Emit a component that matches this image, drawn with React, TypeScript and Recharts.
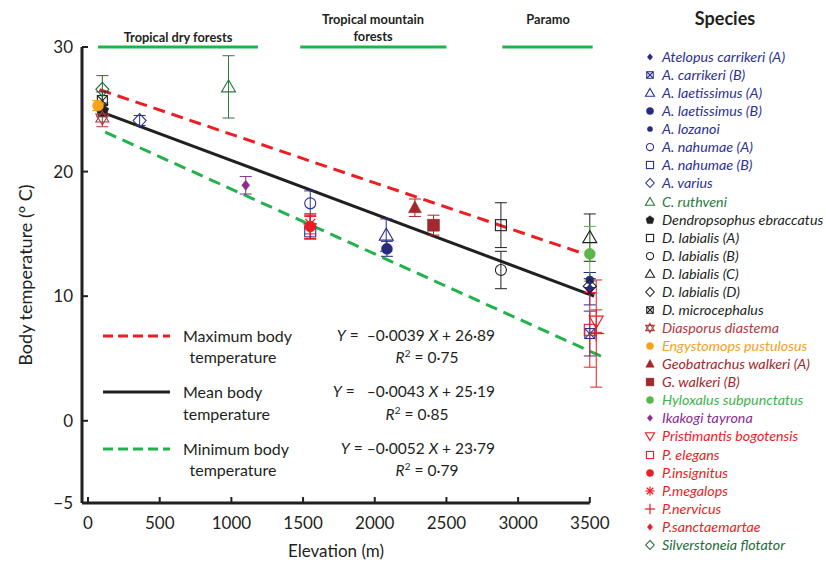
import React from 'react';
import { ComposedChart, Scatter, Line, XAxis, YAxis, ErrorBar, ReferenceLine } from 'recharts';

const FONT = 'Lato, "Open Sans", sans-serif';
const INK = '#231f20';

// ---- Species observations (elevation m, mean body temperature °C, error) ----
const atelopusCarrikeriA = [{ x: 3500, y: 10.6, e: 1.3 }];
const aCarrikeriB = [{ x: 3500, y: 7.0, e: 1.8 }];
const aLaetissimusA = [{ x: 2080, y: 14.9, e: 1.3 }];
const aLaetissimusB = [{ x: 2085, y: 13.8, e: 0.6 }];
const aLozanoi = [{ x: 3500, y: 11.3, e: 0.6 }];
const aNahumaeA = [{ x: 1550, y: 17.45, e: 1.0 }];
const aNahumaeB = [{ x: 1550, y: 15.2, e: 0.6 }];
const aVarius = [{ x: 360, y: 24.1, e: 0.4 }];
const cRuthveni = [{ x: 980, y: 26.8, e: 2.5 }];
const dendropsophusEbraccatus = [{ x: 100, y: 24.9, e: 0.5 }];
const dLabialisA = [{ x: 2880, y: 15.7, e: 1.8 }];
const dLabialisB = [{ x: 2880, y: 12.1, e: 1.5 }];
const dLabialisC = [{ x: 3500, y: 14.7, e: 1.9 }];
const dLabialisD = [{ x: 3500, y: 10.8, e: 0.6 }];
const dMicrocephalus = [{ x: 100, y: 25.7, e: 0.7 }];
const diasporusDiastema = [{ x: 100, y: 24.3, e: 0.7 }];
const engystomopsPustulosus = [{ x: 70, y: 25.3, e: 0.4 }];
const geobatrachusWalkeriA = [{ x: 2280, y: 17.1, e: 0.7 }];
const gWalkeriB = [{ x: 2410, y: 15.7, e: 0.8 }];
const hyloxalusSubpunctatus = [{ x: 3500, y: 13.4, e: 2.2 }];
const ikakogiTayrona = [{ x: 1100, y: 18.9, e: 0.7 }];
const pristimantisBogotensis = [{ x: 3545, y: 8.0, e: 0.9 }];
const pElegans = [{ x: 3500, y: 7.3, e: 3.0 }];
const pInsignitus = [{ x: 1550, y: 15.6, e: 1.0 }];
const pMegalops = [{ x: 1550, y: 15.8, e: 0.8 }];
const pNervicus = [{ x: 3545, y: 7.0, e: 4.3 }];
const pSanctaemartae = [{ x: 1550, y: 15.5, e: 0.9 }];
const silverstoneiaFlotator = [{ x: 100, y: 26.6, e: 1.1 }];

// ---- Regression lines (end points) ----
const maxLine = [{ x: 80, y: 26.58 }, { x: 3480, y: 13.32 }];
const meanLine = [{ x: 100, y: 24.76 }, { x: 3530, y: 10.01 }];
const minLine = [{ x: 120, y: 23.17 }, { x: 3580, y: 5.17 }];

// ---- Axes ----
const xTicks = [0, 500, 1000, 1500, 2000, 2500, 3000, 3500];
const yTickValues = [-6.6, 0, 10, 20, 30];
const yTickLabels = ['−5', '0', '10', '20', '30'];

// ---- Habitat bands ----
const bandNames = ['Tropical dry forests', 'Tropical mountain forests', 'Paramo'];
const bandFrom = [70, 1480, 2890];
const bandTo = [1185, 2500, 3520];

type Kind =
  | 'diamondFilled' | 'squareX' | 'triangle' | 'circleFilled' | 'circleSmall' | 'circle'
  | 'square' | 'diamond' | 'pentagonFilled' | 'starDavid' | 'triangleFilled' | 'squareFilled'
  | 'triangleDown' | 'asterisk' | 'plus';

const BLUE = '#2e3192';
const NAVY = '#262b7e';
const DKGREEN = '#2b7a3d';
const RED = '#ed1c24';
const BROWNRED = '#b13a3c';
const DKRED = '#a3282b';

const species: { name: string; data: any[]; kind: Kind; color: string; text: string }[] = [
  { name: 'Atelopus carrikeri (A)', data: atelopusCarrikeriA, kind: 'diamondFilled', color: NAVY, text: BLUE },
  { name: 'A. carrikeri (B)', data: aCarrikeriB, kind: 'squareX', color: BLUE, text: BLUE },
  { name: 'A. laetissimus (A)', data: aLaetissimusA, kind: 'triangle', color: BLUE, text: BLUE },
  { name: 'A. laetissimus (B)', data: aLaetissimusB, kind: 'circleFilled', color: NAVY, text: BLUE },
  { name: 'A. lozanoi', data: aLozanoi, kind: 'circleSmall', color: NAVY, text: BLUE },
  { name: 'A. nahumae (A)', data: aNahumaeA, kind: 'circle', color: BLUE, text: BLUE },
  { name: 'A. nahumae (B)', data: aNahumaeB, kind: 'square', color: BLUE, text: BLUE },
  { name: 'A. varius', data: aVarius, kind: 'diamond', color: BLUE, text: BLUE },
  { name: 'C. ruthveni', data: cRuthveni, kind: 'triangle', color: DKGREEN, text: DKGREEN },
  { name: 'Dendropsophus ebraccatus', data: dendropsophusEbraccatus, kind: 'pentagonFilled', color: INK, text: INK },
  { name: 'D. labialis (A)', data: dLabialisA, kind: 'square', color: INK, text: INK },
  { name: 'D. labialis (B)', data: dLabialisB, kind: 'circle', color: INK, text: INK },
  { name: 'D. labialis (C)', data: dLabialisC, kind: 'triangle', color: INK, text: INK },
  { name: 'D. labialis (D)', data: dLabialisD, kind: 'diamond', color: INK, text: INK },
  { name: 'D. microcephalus', data: dMicrocephalus, kind: 'squareX', color: INK, text: INK },
  { name: 'Diasporus diastema', data: diasporusDiastema, kind: 'starDavid', color: BROWNRED, text: BROWNRED },
  { name: 'Engystomops pustulosus', data: engystomopsPustulosus, kind: 'circleFilled', color: '#f7a21b', text: '#f7a21b' },
  { name: 'Geobatrachus  walkeri (A)', data: geobatrachusWalkeriA, kind: 'triangleFilled', color: DKRED, text: DKRED },
  { name: 'G. walkeri (B)', data: gWalkeriB, kind: 'squareFilled', color: DKRED, text: DKRED },
  { name: 'Hyloxalus subpunctatus', data: hyloxalusSubpunctatus, kind: 'circleFilled', color: '#5cb547', text: '#3cb54a' },
  { name: 'Ikakogi tayrona', data: ikakogiTayrona, kind: 'diamondFilled', color: '#8b2c8f', text: '#8b2c8f' },
  { name: 'Pristimantis bogotensis', data: pristimantisBogotensis, kind: 'triangleDown', color: RED, text: RED },
  { name: 'P. elegans', data: pElegans, kind: 'square', color: RED, text: RED },
  { name: 'P.insignitus', data: pInsignitus, kind: 'circleFilled', color: RED, text: RED },
  { name: 'P.megalops', data: pMegalops, kind: 'asterisk', color: RED, text: RED },
  { name: 'P.nervicus', data: pNervicus, kind: 'plus', color: RED, text: RED },
  { name: 'P.sanctaemartae', data: pSanctaemartae, kind: 'diamondFilled', color: RED, text: RED },
  { name: 'Silverstoneia flotator', data: silverstoneiaFlotator, kind: 'diamond', color: '#1e6b38', text: '#1e6b38' },
];

function Marker({ kind, color, cx, cy, s = 1 }: { kind: Kind; color: string; cx: number; cy: number; s?: number }) {
  const sw = 1.1;
  const open = { fill: 'none', stroke: color, strokeWidth: sw };
  const filled = { fill: color, stroke: color, strokeWidth: 0.5 };
  const p = (pts: number[][]) => pts.map(([a, b]) => `${cx + a * s},${cy + b * s}`).join(' ');
  switch (kind) {
    case 'diamondFilled':
      return <polygon points={p([[0, -5], [4, 0], [0, 5], [-4, 0]])} {...filled} />;
    case 'squareX':
      return (
        <g {...open}>
          <rect x={cx - 5 * s} y={cy - 5 * s} width={10 * s} height={10 * s} />
          <line x1={cx - 5 * s} y1={cy - 5 * s} x2={cx + 5 * s} y2={cy + 5 * s} />
          <line x1={cx + 5 * s} y1={cy - 5 * s} x2={cx - 5 * s} y2={cy + 5 * s} />
        </g>
      );
    case 'triangle':
      return <polygon points={p([[0, -7], [7, 5], [-7, 5]])} {...open} />;
    case 'triangleDown':
      return <polygon points={p([[0, 7], [7, -5], [-7, -5]])} {...open} />;
    case 'triangleFilled':
      return <polygon points={p([[0, -7], [6.5, 5], [-6.5, 5]])} {...filled} />;
    case 'circleFilled':
      return <circle cx={cx} cy={cy} r={5.5 * s} {...filled} />;
    case 'circleSmall':
      return <circle cx={cx} cy={cy} r={4 * s} {...filled} />;
    case 'circle':
      return <circle cx={cx} cy={cy} r={5.5 * s} {...open} />;
    case 'square':
      return <rect x={cx - 5.5 * s} y={cy - 5.5 * s} width={11 * s} height={11 * s} {...open} />;
    case 'squareFilled':
      return <rect x={cx - 6 * s} y={cy - 6 * s} width={12 * s} height={12 * s} {...filled} />;
    case 'diamond':
      return <polygon points={p([[0, -7], [6.5, 0], [0, 7], [-6.5, 0]])} {...open} />;
    case 'pentagonFilled':
      return <polygon points={p([[0, -6.5], [6.2, -2], [4, 5.5], [-4, 5.5], [-6.2, -2]])} {...filled} />;
    case 'starDavid':
      return (
        <g {...open}>
          <polygon points={p([[0, -7], [6.5, 4], [-6.5, 4]])} />
          <polygon points={p([[0, 7], [6.5, -4], [-6.5, -4]])} />
        </g>
      );
    case 'asterisk':
      return (
        <g stroke={color} strokeWidth={1.2}>
          <line x1={cx - 7 * s} y1={cy} x2={cx + 7 * s} y2={cy} />
          <line x1={cx} y1={cy - 7 * s} x2={cx} y2={cy + 7 * s} />
          <line x1={cx - 5 * s} y1={cy - 5 * s} x2={cx + 5 * s} y2={cy + 5 * s} />
          <line x1={cx + 5 * s} y1={cy - 5 * s} x2={cx - 5 * s} y2={cy + 5 * s} />
        </g>
      );
    case 'plus':
      return (
        <g stroke={color} strokeWidth={1.2}>
          <line x1={cx - 8 * s} y1={cy} x2={cx + 8 * s} y2={cy} />
          <line x1={cx} y1={cy - 8 * s} x2={cx} y2={cy + 8 * s} />
        </g>
      );
    default:
      return null;
  }
}

function T({ x, y, children, size = 16, anchor = 'start', bold = false, italic = false, color = INK, rotate = 0 }: any) {
  const tx = anchor === 'middle' ? '-50%' : anchor === 'end' ? '-100%' : '0';
  return (
    <div
      style={{
        position: 'absolute',
        left: x,
        top: y,
        transform: `translate(${tx}, -50%)${rotate ? ` rotate(${rotate}deg)` : ''}`,
        transformOrigin: rotate ? '50% 50%' : undefined,
        fontSize: size,
        fontWeight: bold ? 700 : 400,
        fontStyle: italic ? 'italic' : 'normal',
        color,
        whiteSpace: 'nowrap',
        lineHeight: 1,
        fontFamily: FONT,
      }}
    >
      {children}
    </div>
  );
}

const I = ({ children }: any) => <span style={{ fontStyle: 'italic' }}>{children}</span>;

export default function App() {
  const legendTop = 57;
  const legendStep = 18.07;
  return (
    <div style={{ position: 'absolute', left: 0, top: 0, width: 826, height: 565, background: '#fff', fontFamily: FONT }}>
      <ComposedChart width={826} height={565} margin={{ top: 47, right: 219, bottom: 22, left: 22 }}>
        <XAxis
          type="number"
          dataKey="x"
          domain={[-42, 3620]}
          ticks={xTicks}
          interval={0}
          allowDataOverflow
          height={40}
          axisLine={false}
          tickSize={-6}
          tickMargin={20}
          tickLine={{ stroke: INK, strokeWidth: 2 }}
          tick={{ fill: INK, fontSize: 17, fontFamily: FONT }}
        />
        <YAxis
          type="number"
          dataKey="y"
          domain={[-6.6, 30]}
          ticks={yTickValues}
          interval={0}
          allowDataOverflow
          width={60}
          tickSize={-6}
          tickMargin={15}
          tickFormatter={(v: number) => yTickLabels[yTickValues.indexOf(v)] ?? String(v)}
          axisLine={{ stroke: INK, strokeWidth: 3 }}
          tickLine={{ stroke: INK, strokeWidth: 2 }}
          tick={{ fill: INK, fontSize: 17, fontFamily: FONT }}
        />
        <ReferenceLine
          segment={[{ x: -42, y: -6.6 }, { x: 3500, y: -6.6 }]}
          stroke={INK}
          strokeWidth={3}
          ifOverflow="visible"
        />
        {bandNames.map((n, i) => (
          <ReferenceLine
            key={n}
            segment={[{ x: bandFrom[i], y: 30 }, { x: bandTo[i], y: 30 }]}
            stroke="#22b24c"
            strokeWidth={3}
            ifOverflow="visible"
          />
        ))}
        <Line data={maxLine} dataKey="y" type="linear" stroke="#ee1d23" strokeWidth={3} strokeDasharray="12 7" dot={false} activeDot={false} isAnimationActive={false} />
        <Line data={meanLine} dataKey="y" type="linear" stroke={INK} strokeWidth={3} dot={false} activeDot={false} isAnimationActive={false} />
        <Line data={minLine} dataKey="y" type="linear" stroke="#22b24c" strokeWidth={3} strokeDasharray="12 7" dot={false} activeDot={false} isAnimationActive={false} />
        {species.map((sp) => (
          <Scatter
            key={sp.name}
            name={sp.name}
            data={sp.data}
            dataKey="y"
            isAnimationActive={false}
            shape={(props: any) => <Marker kind={sp.kind} color={sp.color} cx={props.cx} cy={props.cy} />}
          >
            <ErrorBar dataKey="e" direction="y" width={6} stroke={sp.color} strokeWidth={1} isAnimationActive={false} />
          </Scatter>
        ))}
      </ComposedChart>

      {/* Habitat band labels */}
      <T x={178} y={37} size={12.8} bold anchor="middle">Tropical dry forests</T>
      <T x={373} y={19} size={12.8} bold anchor="middle">Tropical mountain</T>
      <T x={373} y={36} size={12.8} bold anchor="middle">forests</T>
      <T x={548} y={19} size={12.8} bold anchor="middle">Paramo</T>

      {/* Axis titles */}
      <T x={25} y={275} size={18} anchor="middle" rotate={-90}>Body temperature (° C)</T>
      <T x={336} y={550} size={17} anchor="middle">Elevation (m)</T>

      {/* Regression legend */}
      <svg style={{ position: 'absolute', left: 0, top: 0 }} width={826} height={565} pointerEvents="none">
        <line x1={103} y1={336} x2={170} y2={336} stroke="#ee1d23" strokeWidth={3} strokeDasharray="10 5" />
        <line x1={103} y1={392} x2={170} y2={392} stroke={INK} strokeWidth={3} />
        <line x1={103} y1={449} x2={170} y2={449} stroke="#22b24c" strokeWidth={3} strokeDasharray="10 5" />
      </svg>
      <T x={183} y={336} size={16}>Maximum body</T>
      <T x={233} y={357} size={16} anchor="middle">temperature</T>
      <T x={183} y={392} size={16}>Mean body</T>
      <T x={183} y={414} size={16}>temperature</T>
      <T x={183} y={449} size={16}>Minimum body</T>
      <T x={233} y={470} size={16} anchor="middle">temperature</T>

      <T x={495} y={336} size={15.5} anchor="end"><I>Y</I> = &nbsp;–0·0039 <I>X</I> + 26·89</T>
      <T x={427} y={357} size={15.5} anchor="middle"><I>R</I><sup style={{ fontSize: 10 }}>2</sup> = 0·75</T>
      <T x={495} y={392} size={15.5} anchor="end"><I>Y</I> = &nbsp;&nbsp;–0·0043 <I>X</I> + 25·19</T>
      <T x={417} y={414} size={15.5} anchor="middle"><I>R</I><sup style={{ fontSize: 10 }}>2</sup> = 0·85</T>
      <T x={495} y={449} size={15.5} anchor="end"><I>Y</I> = –0·0052 <I>X</I> + 23·79</T>
      <T x={427} y={470} size={15.5} anchor="middle"><I>R</I><sup style={{ fontSize: 10 }}>2</sup> = 0·79</T>

      {/* Species legend */}
      <T x={725} y={18} size={18} bold anchor="middle">Species</T>
      {species.map((sp, i) => {
        const y = legendTop + i * legendStep;
        return (
          <React.Fragment key={sp.name}>
            <svg style={{ position: 'absolute', left: 642, top: y - 8 }} width={16} height={16}>
              <Marker kind={sp.kind} color={sp.color} cx={8} cy={8} s={0.65} />
            </svg>
            <T x={662} y={y} size={14.3} italic color={sp.text}>{sp.name}</T>
          </React.Fragment>
        );
      })}
    </div>
  );
}
